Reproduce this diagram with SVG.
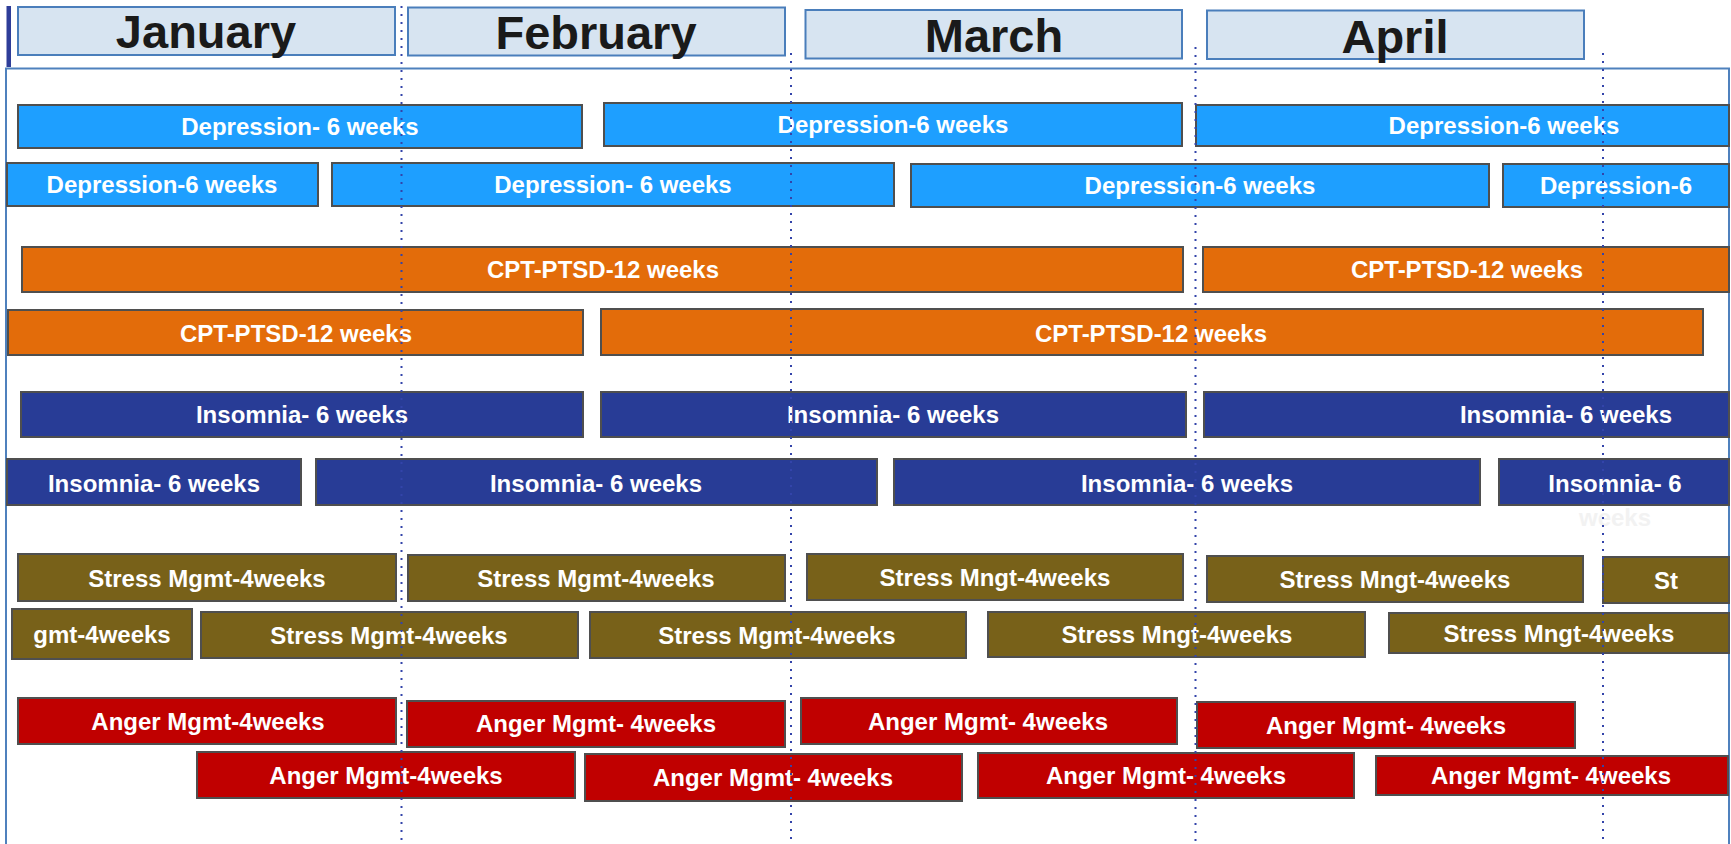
<svg xmlns="http://www.w3.org/2000/svg" width="1731" height="844" viewBox="0 0 1731 844">
<style>
.mon{fill:#D7E4F1;stroke:#4A7EBB;stroke-width:2}
.mt{font-family:"Liberation Sans",Arial,sans-serif;font-weight:bold;font-size:47px;fill:#1a1a1a;text-anchor:middle}
.bar{stroke:#4f4f4f;stroke-width:2}
.dep{fill:#1E9FFF}
.cpt{fill:#E36C0A}
.ins{fill:#283C96}
.str{fill:#786119}
.ang{fill:#C00000}
.t{font-family:"Liberation Sans",Arial,sans-serif;font-weight:bold;font-size:24px;fill:#ffffff;text-anchor:middle}
.faint{fill:#f2f2f2}
.dot{stroke:#3344AA;stroke-width:2;stroke-dasharray:2 6;fill:none}
</style>
<rect width="1731" height="844" fill="#ffffff"/>
<g id="frame">
<path d="M6 850 V68.5 H1729 V850" fill="none" stroke="#4F81BD" stroke-width="2"/>
<rect x="6.5" y="6" width="4.5" height="61" fill="#2E3D99"/>
</g>
<g id="months">
<g id="jan"><rect class="mon" x="18" y="7" width="377" height="48"/><text class="mt" x="206" y="48">January</text></g>
<g id="feb"><rect class="mon" x="408" y="7.5" width="377" height="48"/><text class="mt" x="596" y="48.5">February</text></g>
<g id="mar"><rect class="mon" x="805.5" y="10" width="376.5" height="48.5"/><text class="mt" x="994" y="51.5">March</text></g>
<g id="apr"><rect class="mon" x="1207" y="10.5" width="377" height="48.5"/><text class="mt" x="1395" y="53">April</text></g>
</g>
<g id="depression">
<g id="d1"><rect class="bar dep" x="18" y="105" width="564" height="43"/><text class="t" x="300" y="135">Depression- 6 weeks</text></g>
<g id="d2"><rect class="bar dep" x="604" y="103" width="578" height="43"/><text class="t" x="893" y="133">Depression-6 weeks</text></g>
<g id="d3"><rect class="bar dep" x="1196" y="105" width="533" height="41"/><text class="t" x="1504" y="134">Depression-6 weeks</text></g>
<g id="d4"><rect class="bar dep" x="7" y="163" width="311" height="43"/><text class="t" x="162" y="193">Depression-6 weeks</text></g>
<g id="d5"><rect class="bar dep" x="332" y="163" width="562" height="43"/><text class="t" x="613" y="193">Depression- 6 weeks</text></g>
<g id="d6"><rect class="bar dep" x="911" y="164" width="578" height="43"/><text class="t" x="1200" y="194">Depression-6 weeks</text></g>
<g id="d7"><rect class="bar dep" x="1503" y="164" width="226" height="43"/><text class="t" x="1616" y="194">Depression-6</text></g>
</g>
<g id="cpt">
<g id="c1"><rect class="bar cpt" x="22" y="247" width="1161" height="45"/><text class="t" x="603" y="278">CPT-PTSD-12 weeks</text></g>
<g id="c2"><rect class="bar cpt" x="1203" y="247" width="526" height="45"/><text class="t" x="1467" y="278">CPT-PTSD-12 weeks</text></g>
<g id="c3"><rect class="bar cpt" x="8" y="310" width="575" height="45"/><text class="t" x="296" y="342">CPT-PTSD-12 weeks</text></g>
<g id="c4"><rect class="bar cpt" x="601" y="309" width="1102" height="46"/><text class="t" x="1151" y="342">CPT-PTSD-12 weeks</text></g>
</g>
<g id="insomnia">
<g id="i1"><rect class="bar ins" x="21" y="392" width="562" height="45"/><text class="t" x="302" y="423">Insomnia- 6 weeks</text></g>
<g id="i2"><rect class="bar ins" x="601" y="392" width="585" height="45"/><text class="t" x="893" y="423">Insomnia- 6 weeks</text></g>
<g id="i3"><rect class="bar ins" x="1204" y="392" width="525" height="45"/><text class="t" x="1566" y="423">Insomnia- 6 weeks</text></g>
<g id="i4"><rect class="bar ins" x="7" y="459" width="294" height="46"/><text class="t" x="154" y="492">Insomnia- 6 weeks</text></g>
<g id="i5"><rect class="bar ins" x="316" y="459" width="561" height="46"/><text class="t" x="596" y="492">Insomnia- 6 weeks</text></g>
<g id="i6"><rect class="bar ins" x="894" y="459" width="586" height="46"/><text class="t" x="1187" y="492">Insomnia- 6 weeks</text></g>
<g id="i7"><rect class="bar ins" x="1499" y="459" width="230" height="46"/><text class="t" x="1615" y="492">Insomnia- 6</text><text class="t faint" x="1615" y="526">weeks</text></g>
</g>
<g id="stress">
<g id="s1"><rect class="bar str" x="18" y="554" width="378" height="47"/><text class="t" x="207" y="587">Stress Mgmt-4weeks</text></g>
<g id="s2"><rect class="bar str" x="408" y="555" width="377" height="46"/><text class="t" x="596" y="587">Stress Mgmt-4weeks</text></g>
<g id="s3"><rect class="bar str" x="807" y="554" width="376" height="46"/><text class="t" x="995" y="586">Stress Mngt-4weeks</text></g>
<g id="s4"><rect class="bar str" x="1207" y="556" width="376" height="46"/><text class="t" x="1395" y="588">Stress Mngt-4weeks</text></g>
<g id="s5"><rect class="bar str" x="1603" y="557" width="126" height="46"/><text class="t" x="1666" y="589">St</text></g>
<g id="s6"><rect class="bar str" x="12" y="609" width="180" height="50"/><text class="t" x="102" y="643">gmt-4weeks</text></g>
<g id="s7"><rect class="bar str" x="201" y="612" width="377" height="46"/><text class="t" x="389" y="644">Stress Mgmt-4weeks</text></g>
<g id="s8"><rect class="bar str" x="590" y="612" width="376" height="46"/><text class="t" x="777" y="644">Stress Mgmt-4weeks</text></g>
<g id="s9"><rect class="bar str" x="988" y="612" width="377" height="45"/><text class="t" x="1177" y="643">Stress Mngt-4weeks</text></g>
<g id="s10"><rect class="bar str" x="1389" y="613" width="340" height="40"/><text class="t" x="1559" y="642">Stress Mngt-4weeks</text></g>
</g>
<g id="anger">
<g id="a1"><rect class="bar ang" x="18" y="698" width="378" height="46"/><text class="t" x="208" y="730">Anger Mgmt-4weeks</text></g>
<g id="a2"><rect class="bar ang" x="407" y="701" width="378" height="46"/><text class="t" x="596" y="732">Anger Mgmt- 4weeks</text></g>
<g id="a3"><rect class="bar ang" x="801" y="698" width="376" height="46"/><text class="t" x="988" y="730">Anger Mgmt- 4weeks</text></g>
<g id="a4"><rect class="bar ang" x="1197" y="702" width="378" height="46"/><text class="t" x="1386" y="734">Anger Mgmt- 4weeks</text></g>
<g id="a5"><rect class="bar ang" x="197" y="752" width="378" height="46"/><text class="t" x="386" y="784">Anger Mgmt-4weeks</text></g>
<g id="a6"><rect class="bar ang" x="585" y="754" width="377" height="47"/><text class="t" x="773" y="786">Anger Mgmt- 4weeks</text></g>
<g id="a7"><rect class="bar ang" x="978" y="753" width="376" height="45"/><text class="t" x="1166" y="784">Anger Mgmt- 4weeks</text></g>
<g id="a8"><rect class="bar ang" x="1376" y="756" width="352" height="39"/><text class="t" x="1551" y="784">Anger Mgmt- 4weeks</text></g>
</g>
<g id="connectors">
<line class="dot" x1="401.5" y1="6" x2="401.5" y2="844"/>
<line class="dot" x1="791" y1="53" x2="791" y2="844"/>
<line class="dot" x1="1195.5" y1="47" x2="1195.5" y2="844"/>
<line class="dot" x1="1603" y1="53" x2="1603" y2="844"/>
</g>
</svg>
